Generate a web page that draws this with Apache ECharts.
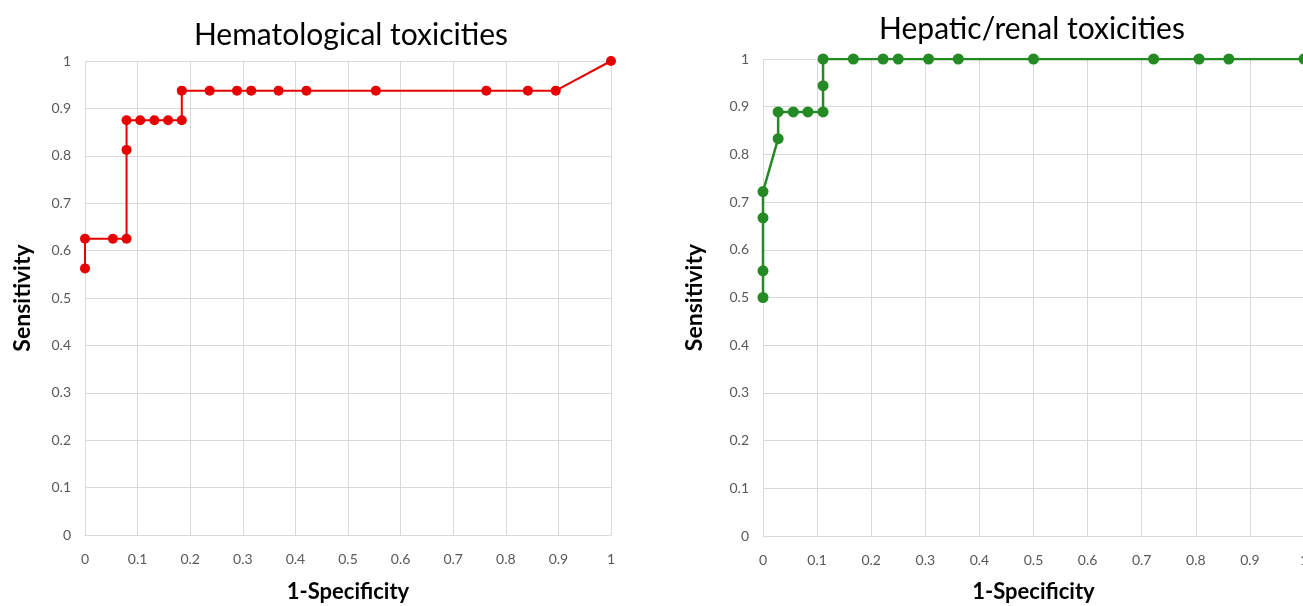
<!DOCTYPE html>
<html>
<head>
<meta charset="utf-8">
<script src="https://cdn.jsdelivr.net/npm/echarts@6/dist/echarts.min.js"></script>
<style>
  html, body { margin: 0; padding: 0; background: #fff; }
  #chart { width: 1303px; height: 606px; }
</style>
</head>
<body>
<div id="chart"></div>
<script>
  // ROC points
  var hemX = [0, 0, 0.053, 0.079, 0.079, 0.079, 0.105, 0.132, 0.158, 0.184, 0.184, 0.237, 0.289, 0.316, 0.368, 0.421, 0.553, 0.763, 0.842, 0.895, 1];
  var hemY = [0.5625, 0.625, 0.625, 0.625, 0.8125, 0.875, 0.875, 0.875, 0.875, 0.875, 0.9375, 0.9375, 0.9375, 0.9375, 0.9375, 0.9375, 0.9375, 0.9375, 0.9375, 0.9375, 1];

  var hepX = [0, 0, 0, 0, 0.028, 0.028, 0.056, 0.083, 0.111, 0.111, 0.111, 0.167, 0.222, 0.25, 0.306, 0.361, 0.5, 0.722, 0.806, 0.861, 1];
  var hepY = [0.5, 0.556, 0.667, 0.722, 0.833, 0.889, 0.889, 0.889, 0.889, 0.944, 1, 1, 1, 1, 1, 1, 1, 1, 1, 1, 1];

  var tickLabels = ['0', '0.1', '0.2', '0.3', '0.4', '0.5', '0.6', '0.7', '0.8', '0.9', '1'];

  function pairs(xs, ys) {
    var out = [];
    for (var i = 0; i < xs.length; i++) {
      out.push([xs[i], ys[i]]);
    }
    return out;
  }

  var font = 'Lato, "Open Sans", sans-serif';
  var gridColor = '#d9d9d9';
  var tickColor = '#595959';

  function axisX(idx, gap) {
    return {
      type: 'value', gridIndex: idx, min: 0, max: 1, interval: 0.1,
      name: '1-Specificity', nameLocation: 'middle', nameGap: gap,
      nameTextStyle: { fontFamily: font, fontSize: 22, fontWeight: 'bold', color: '#000' },
      axisLine: { show: true, lineStyle: { color: gridColor } },
      axisTick: { show: false },
      axisLabel: {
        fontFamily: font, fontSize: 14, color: tickColor, margin: 17,
        formatter: function (v) { return tickLabels[Math.round(v * 10)]; }
      },
      splitLine: { show: true, lineStyle: { color: gridColor } }
    };
  }

  function axisY(idx, gap) {
    return {
      type: 'value', gridIndex: idx, min: 0, max: 1, interval: 0.1,
      name: 'Sensitivity', nameLocation: 'middle', nameGap: gap,
      nameTextStyle: { fontFamily: font, fontSize: 23, fontWeight: 'bold', color: '#000' },
      axisLine: { show: false },
      axisTick: { show: false },
      axisLabel: {
        fontFamily: font, fontSize: 14, color: tickColor, margin: 14,
        formatter: function (v) { return tickLabels[Math.round(v * 10)]; }
      },
      splitLine: { show: true, lineStyle: { color: gridColor } }
    };
  }

  var myChart = echarts.init(document.getElementById('chart'), null, { renderer: 'canvas' });

  var option = {
    backgroundColor: '#fff',
    animation: false,
    title: [
      { text: 'Hematological toxicities', left: 346, top: 15, textAlign: 'center',
        textStyle: { fontFamily: font, fontSize: 30, fontWeight: 'normal', color: '#000' } },
      { text: 'Hepatic/renal toxicities', left: 1027, top: 9, textAlign: 'center',
        textStyle: { fontFamily: font, fontSize: 30, fontWeight: 'normal', color: '#000' } }
    ],
    grid: [
      { left: 85, top: 61, width: 526, height: 474, outerBoundsMode: 'none' },
      { left: 763, top: 59, width: 541, height: 477, outerBoundsMode: 'none' }
    ],
    xAxis: [axisX(0, 46), axisX(1, 45)],
    yAxis: [axisY(0, 51), axisY(1, 57)],
    series: [
      {
        name: 'Hematological', type: 'line', xAxisIndex: 0, yAxisIndex: 0,
        symbol: 'circle', symbolSize: 10,
        lineStyle: { color: '#e60000', width: 2 },
        itemStyle: { color: '#e60000' },
        data: pairs(hemX, hemY)
      },
      {
        name: 'Hepatic/renal', type: 'line', xAxisIndex: 1, yAxisIndex: 1,
        symbol: 'circle', symbolSize: 11,
        lineStyle: { color: '#248a24', width: 2.5 },
        itemStyle: { color: '#248a24' },
        data: pairs(hepX, hepY)
      }
    ]
  };

  myChart.setOption(option);
</script>
</body>
</html>
